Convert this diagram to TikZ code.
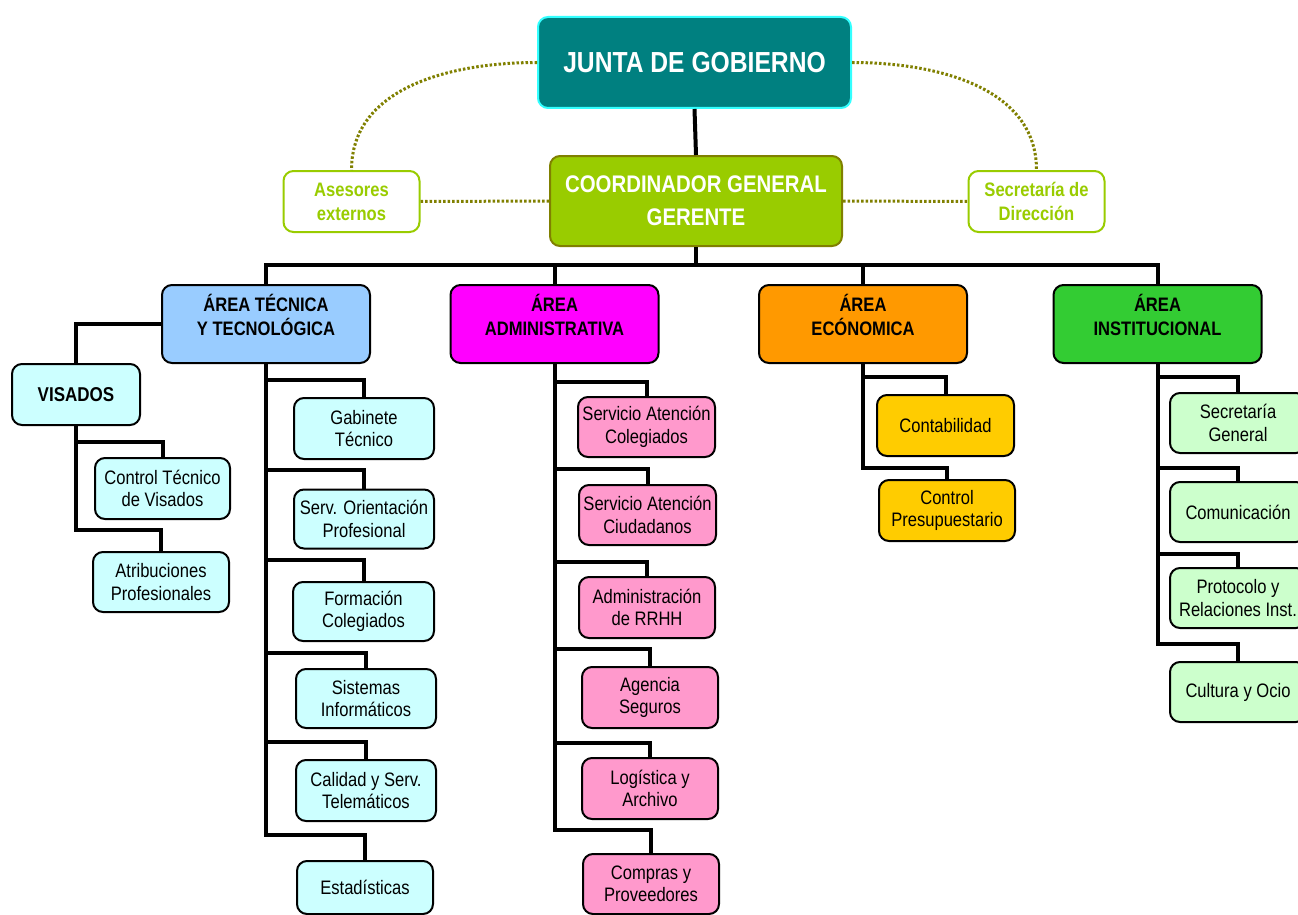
\documentclass[tikz,border=0pt]{standalone}
\usepackage{fontspec}
\setmainfont{Liberation Sans}[FakeStretch=0.85]
\definecolor{tecF}{HTML}{99CCFF}
\definecolor{admF}{HTML}{FF00FF}
\definecolor{ecoF}{HTML}{FF9900}
\definecolor{insF}{HTML}{33CC33}
\definecolor{tecS}{HTML}{CCFFFF}
\definecolor{admS}{HTML}{FF99CC}
\definecolor{ecoS}{HTML}{FFCC00}
\definecolor{insS}{HTML}{CCFFCC}
\definecolor{juntaF}{HTML}{008080}
\definecolor{juntaB}{HTML}{33FFFF}
\definecolor{coordF}{HTML}{99CC00}
\definecolor{coordB}{HTML}{808000}
\definecolor{dotC}{HTML}{808000}
\begin{document}
\begin{tikzpicture}[x=1pt,y=-1pt,
  box/.style={draw=black,line width=2pt,rounded corners=10pt,inner sep=0pt,align=center},
  sub/.style={box,font=\fontsize{19.5}{22.5}\selectfont},
  area/.style={box,minimum width=208pt,minimum height=78pt},
  areatxt/.style={inner sep=0pt,align=center,font=\bfseries\fontsize{19.5}{24}\selectfont},
  side/.style={draw=coordF,fill=white,line width=2pt,rounded corners=10pt,inner sep=0pt,align=center,
    text=coordF,font=\bfseries\fontsize{19.5}{24}\selectfont,minimum width=136pt,minimum height=61pt},
  conn/.style={draw=black,line width=4pt},
  dotc/.style={draw=dotC,line width=3pt,dash pattern=on 2.5pt off 2pt}]
\useasboundingbox[fill=white] (0,0) rectangle (1298,915);

% top
\node[box,fill=juntaF,draw=juntaB,text=white,minimum width=313pt,minimum height=91pt,
  font=\bfseries\fontsize{29}{33}\selectfont] (junta) at (694.5,62.5) {JUNTA DE GOBIERNO};
\node[box,fill=coordF,draw=coordB,text=white,minimum width=292pt,minimum height=90pt,
  font=\bfseries\fontsize{24}{33}\selectfont] (coord) at (696,201) {COORDINADOR GENERAL\\GERENTE};
\node[side] (ases) at (351.5,201.5) {Asesores\\externos};
\node[side] (secd) at (1036.5,201.5) {Secretaría de\\Dirección};

\draw[dotc] (ases.east) -- (coord.west);
\draw[dotc] (coord.east) -- (secd.west);
\draw[dotc] (junta.west) to[out=180,in=90] (ases.north);
\draw[dotc] (junta.east) to[out=0,in=90] (secd.north);
\draw[conn] (junta.south) -- (coord.north);

% areas
\node[area,fill=tecF] (tec) at (266,324) {};
\node[areatxt] (tecT) at (266,314.5) {ÁREA TÉCNICA\\Y TECNOLÓGICA};
\node[area,fill=admF] (adm) at (554.5,324) {};
\node[areatxt] (admT) at (554.5,314.5) {ÁREA\\ADMINISTRATIVA};
\node[area,fill=ecoF] (eco) at (863,324) {};
\node[areatxt] (ecoT) at (863,314.5) {ÁREA\\ECÓNOMICA};
\node[area,fill=insF] (ins) at (1157.5,324) {};
\node[areatxt] (insT) at (1157.5,314.5) {ÁREA\\INSTITUCIONAL};

\coordinate (bus) at (696,265);
\draw[conn] (coord.south) -- (bus);
\draw[conn] (bus) -| (tec.north);
\draw[conn] (bus) -| (adm.north);
\draw[conn] (bus) -| (eco.north);
\draw[conn] (bus) -| (ins.north);

% visados
\node[box,fill=tecS,minimum width=128pt,minimum height=61pt,font=\bfseries\fontsize{20}{24}\selectfont] (vis) at (76,394.5) {VISADOS};
\node[sub,fill=tecS,minimum width=135pt,minimum height=61pt] (cv) at (162.5,488.5) {Control Técnico\\de Visados};
\node[sub,fill=tecS,minimum width=136pt,minimum height=60pt] (atr) at (161,582) {Atribuciones\\Profesionales};
\draw[conn] (tec.west) -| (vis.north);
\draw[conn] (vis.south) |- ([yshift=15pt]cv.north) -- (cv.north);
\draw[conn] (vis.south) |- ([yshift=21pt]atr.north) -- (atr.north);

% tecnica children
\node[sub,fill=tecS,minimum width=140pt,minimum height=61pt] (gab) at (364,428.5) {Gabinete\\Técnico};
\node[sub,fill=tecS,minimum width=140pt,minimum height=59pt] (ori) at (364,519) {Serv. Orientación\\Profesional};
\node[sub,fill=tecS,minimum width=141pt,minimum height=59pt] (for) at (363.5,611.5) {Formación\\Colegiados};
\node[sub,fill=tecS,minimum width=140pt,minimum height=59pt] (sis) at (366,698.5) {Sistemas\\Informáticos};
\node[sub,fill=tecS,minimum width=140pt,minimum height=61pt] (cal) at (366,790.5) {Calidad y Serv.\\Telemáticos};
\node[sub,fill=tecS,minimum width=136pt,minimum height=53pt] (est) at (365,887.5) {Estadísticas};
\foreach \c/\d in {gab/17,ori/19,for/21,sis/15,cal/17,est/25}{
  \draw[conn] (tec.south) |- ([yshift=\d pt]\c.north) -- (\c.north);
}

% administrativa children
\node[sub,fill=admS,minimum width=137pt,minimum height=60pt] (sac) at (646.5,427) {Servicio Atención\\Colegiados};
\node[sub,fill=admS,minimum width=137pt,minimum height=60pt] (sci) at (647.5,515) {Servicio Atención\\Ciudadanos};
\node[sub,fill=admS,minimum width=136pt,minimum height=61pt] (rrhh) at (647,607.5) {Administración\\de RRHH};
\node[sub,fill=admS,minimum width=136pt,minimum height=61pt] (age) at (650,697.5) {Agencia\\Seguros};
\node[sub,fill=admS,minimum width=136pt,minimum height=61pt] (logi) at (650,788.5) {Logística y\\Archivo};
\node[sub,fill=admS,minimum width=136pt,minimum height=60pt] (comp) at (651,884) {Compras y\\Proveedores};
\foreach \c/\d in {sac/14,sci/15,rrhh/14,age/17,logi/14,comp/23}{
  \draw[conn] (adm.south) |- ([yshift=\d pt]\c.north) -- (\c.north);
}

% economica children
\node[sub,fill=ecoS,minimum width=137pt,minimum height=61pt] (cont) at (945.5,425.5) {Contabilidad};
\node[sub,fill=ecoS,minimum width=136pt,minimum height=61pt] (cpre) at (947,510.5) {Control\\Presupuestario};
\foreach \c/\d in {cont/17,cpre/11}{
  \draw[conn] (eco.south) |- ([yshift=\d pt]\c.north) -- (\c.north);
}

% institucional children
\node[sub,fill=insS,minimum width=136pt,minimum height=60pt] (sg) at (1238,423) {Secretaría\\General};
\node[sub,fill=insS,minimum width=136pt,minimum height=60pt] (comu) at (1238,512) {Comunicación};
\node[sub,fill=insS,minimum width=136pt,minimum height=60pt] (prot) at (1238,598) {Protocolo y\\Relaciones Inst.};
\node[sub,fill=insS,minimum width=136pt,minimum height=60pt] (cult) at (1238,692) {Cultura y Ocio};
\foreach \c/\d in {sg/15,comu/13,prot/13,cult/17}{
  \draw[conn] (ins.south) |- ([yshift=\d pt]\c.north) -- (\c.north);
}
\end{tikzpicture}
\end{document}
